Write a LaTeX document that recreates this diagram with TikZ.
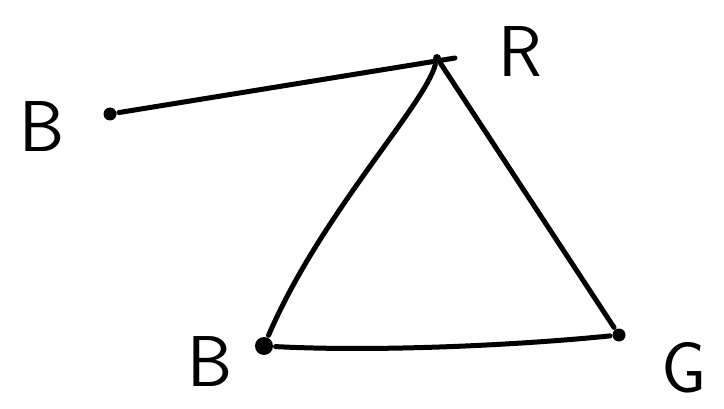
\documentclass[tikz,border=0pt]{standalone}
\usepackage{tikz}
\begin{document}
\begin{tikzpicture}[x=1pt,y=-1pt,line width=5pt,line cap=round,line join=round,
  vert/.style={circle,fill,inner sep=0pt,minimum size=13pt},
  lbl/.style={font=\sffamily\fontsize{72}{72}\selectfont}]
  \useasboundingbox (0,0) rectangle (724,409);
  % vertices
  \node[vert,minimum size=8pt] (r) at (437,58) {};
  \node[vert,minimum size=18pt] (b) at (264,346) {};
  \node[vert] (g) at (619,335) {};
  \node[vert] (b2) at (110,114) {};
  \coordinate (rr) at (455,58);
  % labels
  \node[lbl] (lb2) at (42,127) {B};
  \node[lbl] (lr) at (520,52) {R};
  \node[lbl] (lb) at (210,362) {B};
  \node[lbl] (lg) at (684,368) {G};
  % edges
  \draw (b2) -- (rr);
  \draw (r) .. controls (425,105) and (320,215) .. (b);
  \draw (r) -- (g);
  \draw (b) .. controls (380,352) and (520,345) .. (g);
\end{tikzpicture}
\end{document}
